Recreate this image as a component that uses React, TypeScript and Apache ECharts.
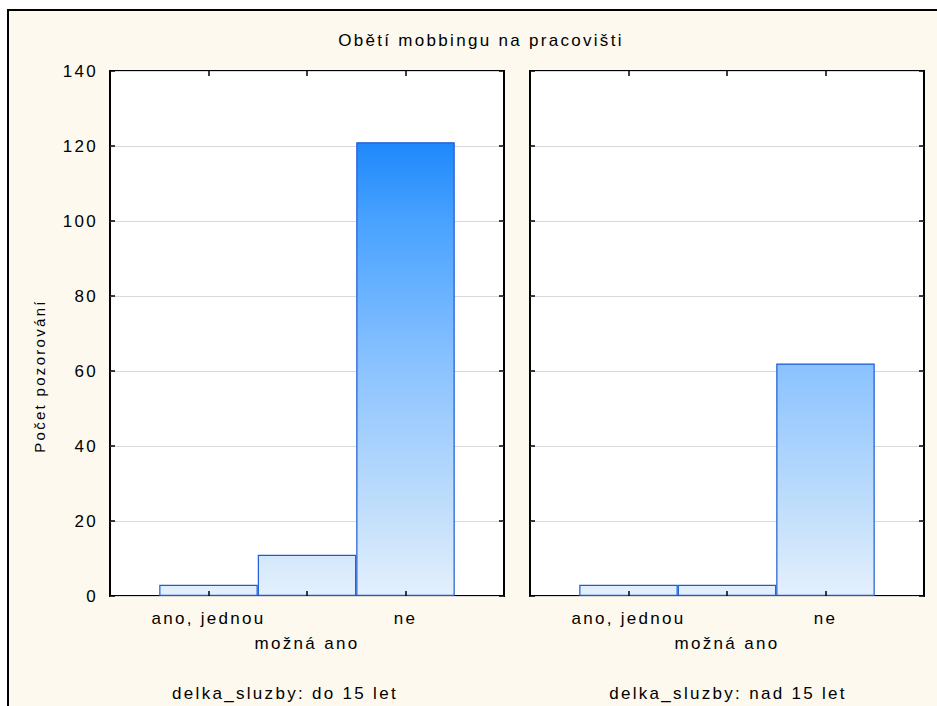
import React, { useEffect, useRef } from "react";
import * as echarts from "echarts";

const categories = ["ano, jednou", "možná ano", "ne"];
const panelTitles = ["delka_sluzby: do 15 let", "delka_sluzby: nad 15 let"];
const countsDo15 = [3, 11, 121];
const countsNad15 = [3, 3, 62];
const panels = [countsDo15, countsNad15];
const chartTitle = "Obětí mobbingu na pracovišti";
const yAxisName = "Počet pozorování";
const yMin = 0;
const yMax = 140;
const yStep = 20;

const FONT = "'Liberation Sans', Arial, sans-serif";

export default function App() {
  const ref = useRef<HTMLDivElement>(null);

  useEffect(() => {
    if (!ref.current) return;
    const chart = echarts.init(ref.current, undefined, { renderer: "svg" });

    const gridLefts = [110, 530];
    const gridTop = 71;
    const gridW = 394;
    const gridH = 525;
    const footerX = [285, 728];

    const grad = new echarts.graphic.LinearGradient(
      0,
      gridTop + gridH,
      0,
      gridTop + gridH - (121 / yMax) * gridH,
      [
        { offset: 0, color: "#e4f0fc" },
        { offset: 0.17, color: "#c4e0fb" },
        { offset: 0.51, color: "#8ac2ff" },
        { offset: 0.82, color: "#4aa3ff" },
        { offset: 1, color: "#1f88fb" },
      ],
      true
    );

    const mkTick = () => ({
      show: true,
      inside: true,
      length: 5,
      lineStyle: { color: "#000", width: 1.5 },
    });

    const grids: any[] = [];
    const xAxes: any[] = [];
    const yAxes: any[] = [];
    const series: any[] = [];
    const graphics: any[] = [
      {
        type: "rect",
        z: -100,
        shape: { x: 8, y: 10, width: 1000, height: 1000 },
        style: { fill: "#fef9ee", stroke: "#000", lineWidth: 2 },
      },
      {
        type: "text",
        x: 481,
        y: 40,
        style: {
          text: chartTitle,
          font: `17px ${FONT}`,
          fill: "#000",
          textAlign: "center",
          textVerticalAlign: "middle",
        },
      },
      {
        type: "text",
        x: 39,
        y: 376,
        rotation: Math.PI / 2,
        style: {
          text: yAxisName,
          font: `15px ${FONT}`,
          fill: "#000",
          textAlign: "center",
          textVerticalAlign: "middle",
        },
      },
    ];

    panels.forEach((counts, i) => {
      grids.push({
        left: gridLefts[i],
        top: gridTop,
        width: gridW,
        height: gridH,
        show: true,
        backgroundColor: "#fff",
        borderColor: "#000",
        borderWidth: 2,
      });
      xAxes.push({
        gridIndex: i,
        type: "value",
        min: 0,
        max: categories.length + 1,
        interval: 1,
        position: "bottom",
        z: 5,
        axisLine: { show: false, onZero: false },
        axisTick: mkTick(),
        splitLine: { show: false },
        axisLabel: {
          margin: 10,
          fontSize: 17,
          fontFamily: FONT,
          color: "#000",
          lineHeight: 25,
          formatter: (v: number) => {
            const k = Math.round(v) - 1;
            if (k < 0 || k >= categories.length) return "";
            return (k % 2 === 1 ? "\n" : "") + categories[k];
          },
        },
      });
      xAxes.push({
        gridIndex: i,
        type: "value",
        min: 0,
        max: categories.length + 1,
        interval: 1,
        position: "top",
        z: 5,
        axisLine: { show: false, onZero: false },
        axisTick: mkTick(),
        splitLine: { show: false },
        axisLabel: { show: false },
      });
      yAxes.push({
        gridIndex: i,
        type: "value",
        min: yMin,
        max: yMax,
        interval: yStep,
        position: "left",
        axisLine: { show: false, onZero: false },
        axisTick: mkTick(),
        splitLine: { show: true, lineStyle: { color: "#d9d9d9", width: 1 } },
        axisLabel: {
          show: i === 0,
          margin: 12,
          fontSize: 17,
          fontFamily: FONT,
          color: "#000",
        },
      });
      yAxes.push({
        gridIndex: i,
        type: "value",
        min: yMin,
        max: yMax,
        interval: yStep,
        position: "right",
        axisLine: { show: false, onZero: false },
        axisTick: mkTick(),
        splitLine: { show: false },
        axisLabel: { show: false },
      });
      series.push({
        type: "bar",
        xAxisIndex: 2 * i,
        yAxisIndex: 2 * i,
        barWidth: gridW / (categories.length + 1),
        data: counts.map((v, k) => [k + 1, v]),
        itemStyle: { color: grad, borderColor: "#1d5bd6", borderWidth: 1.2 },
      });
      graphics.push({
        type: "text",
        x: footerX[i],
        y: 693,
        style: {
          text: panelTitles[i],
          font: `17px ${FONT}`,
          fill: "#000",
          textAlign: "center",
          textVerticalAlign: "middle",
        },
      });
    });

    chart.setOption({
      animation: false,
      backgroundColor: "#fff",
      textStyle: { fontFamily: FONT },
      grid: grids,
      xAxis: xAxes,
      yAxis: yAxes,
      series,
      graphic: { elements: graphics },
    });

    return () => chart.dispose();
  }, []);

  return (
    <>
      <style>{`.ec-chart text { letter-spacing: 2.3px; }`}</style>
      <div
        ref={ref}
        className="ec-chart"
        style={{ position: "fixed", left: 0, top: 0, width: 937, height: 706 }}
      />
    </>
  );
}
